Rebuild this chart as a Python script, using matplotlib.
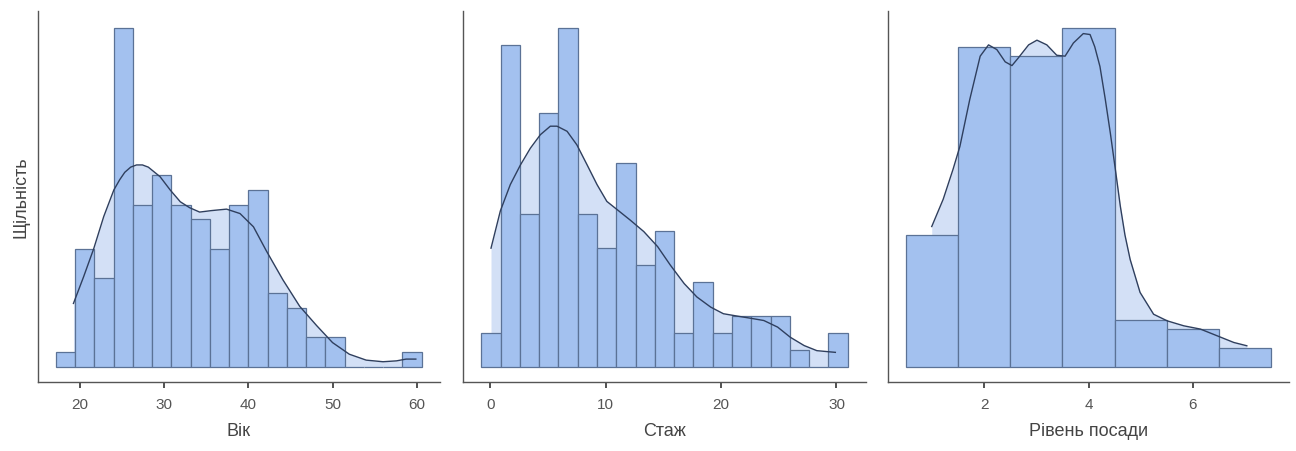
import numpy as np
import matplotlib
matplotlib.use("Agg")
import matplotlib.pyplot as plt

plt.rcParams['font.family'] = ['Liberation Sans', 'DejaVu Sans']

N = 128

# ---- Вік (age) ----
age_lo, age_hi, age_bins = 17.1, 60.6, 19
age_counts = [1, 8, 6, 23, 11, 13, 11, 10, 8, 11, 12, 5, 4, 2, 2, 0, 0, 0, 1]
age_kde_x = [19.2, 20.4, 21.6, 22.8, 24.0, 24.7, 25.3, 26.0, 26.7, 27.4, 28.1, 29.5,
             30.7, 31.9, 33.0, 34.2, 35.6, 37.4, 39.0, 40.6, 42.1, 44.1, 46.1, 48.1,
             50.0, 52.0, 54.0, 56.0, 57.6, 58.75, 59.9]
age_kde_c = [4.3, 6.1, 8.0, 10.2, 12.0, 12.7, 13.2, 13.55, 13.7, 13.7, 13.55, 12.9,
             12.0, 11.2, 10.8, 10.5, 10.6, 10.7, 10.4, 9.5, 7.9, 5.9, 4.1, 2.8,
             1.64, 0.85, 0.45, 0.34, 0.4, 0.52, 0.52]
age_ticks = [20, 30, 40, 50, 60]

# ---- Стаж (experience) ----
exp_lo, exp_hi, exp_bins = -0.78, 30.97, 19
exp_counts = [2, 19, 9, 15, 20, 9, 7, 12, 6, 8, 2, 5, 2, 3, 3, 3, 1, 0, 2]
exp_kde_x = [0.06, 0.87, 1.73, 2.6, 3.47, 4.34, 5.2, 5.78, 6.65, 7.5, 8.4, 9.25,
             10.1, 11.0, 12.1, 13.3, 14.5, 15.6, 16.8, 17.9, 19.1, 20.2, 21.4,
             22.5, 23.7, 24.9, 26.0, 27.2, 28.3, 29.9]
exp_kde_c = [7.0, 9.2, 10.75, 11.9, 12.9, 13.7, 14.2, 14.2, 13.9, 13.1, 11.9, 10.75,
             9.76, 9.27, 8.67, 7.98, 7.09, 6.0, 4.91, 4.12, 3.52, 3.13, 2.99,
             2.87, 2.73, 2.34, 1.74, 1.25, 0.95, 0.85]
exp_ticks = [0, 10, 20, 30]

# ---- Рівень посади (position level) ----
lvl_lo, lvl_hi, lvl_bins = 0.5, 7.5, 7
lvl_counts = [14, 34, 33, 36, 5, 4, 2]
lvl_kde_x = [0.99, 1.21, 1.40, 1.53, 1.72, 1.92, 2.08, 2.24, 2.40, 2.53, 2.65, 2.85,
             3.01, 3.20, 3.39, 3.55, 3.71, 3.90, 4.03, 4.12, 4.22, 4.32, 4.42, 4.52,
             4.61, 4.70, 4.80, 4.99, 5.25, 5.51, 5.83, 6.15, 6.47, 6.79, 7.04]
lvl_kde_c = [14.9, 17.8, 21.0, 23.4, 28.4, 33.0, 34.2, 33.7, 32.4, 32.0, 32.8, 34.2,
             34.7, 34.2, 33.1, 33.0, 34.4, 35.4, 35.3, 34.0, 31.9, 28.5, 24.8, 20.8,
             17.1, 14.0, 11.4, 7.9, 5.58, 4.88, 4.35, 4.0, 3.29, 2.58, 2.23]
lvl_ticks = [2, 4, 6]

xlabels = ['Вік', 'Стаж', 'Рівень посади']
ylabel = 'Щільність'

BAR = '#a3c1ef'
EDGE = '#5b7296'
FILL = '#d3e0f6'
LINE = '#2f3f5e'

W, H = 1296, 452
fig = plt.figure(figsize=(W / 100, H / 100), dpi=100)

panels = [
    (37.5, 402.5, age_lo, age_hi, age_bins, age_counts, age_kde_x, age_kde_c, age_ticks),
    (463, 403, exp_lo, exp_hi, exp_bins, exp_counts, exp_kde_x, exp_kde_c, exp_ticks),
    (888, 401, lvl_lo, lvl_hi, lvl_bins, lvl_counts, lvl_kde_x, lvl_kde_c, lvl_ticks),
]

top_px, bot_px = 12, 383
for i, (lpx, wpx, lo, hi, nb, counts, kx, kc, ticks) in enumerate(panels):
    ax = fig.add_axes([lpx / W, (H - bot_px) / H, wpx / W, (bot_px - top_px) / H])
    edges = np.linspace(lo, hi, nb + 1)
    width = edges[1] - edges[0]
    dens = np.asarray(counts) / (N * width)
    kde = np.asarray(kc) / (N * width)
    ax.fill_between(kx, 0, kde, color=FILL, lw=0, zorder=1)
    ax.bar(edges[:-1], dens, width=width, align='edge', color=BAR,
           edgecolor=EDGE, linewidth=0.9, zorder=2)
    ax.plot(kx, kde, color=LINE, lw=1.0, zorder=3)
    m = dens.max()
    ax.set_xlim(lo - 0.05 * (hi - lo), hi + 0.05 * (hi - lo))
    ax.set_ylim(-0.045 * m, 1.05 * m)
    ax.set_xticks(ticks)
    ax.set_yticks([])
    for s in ['top', 'right']:
        ax.spines[s].set_visible(False)
    for s in ['left', 'bottom']:
        ax.spines[s].set_color('#555555')
        ax.spines[s].set_linewidth(1.0)
    ax.tick_params(axis='x', length=4, width=1.2, color='#333333',
                   labelsize=11, labelcolor='#555555', pad=7)
    ax.set_xlabel(xlabels[i], fontsize=13, color='#444444', labelpad=8)
    if i == 0:
        ax.set_ylabel(ylabel, fontsize=13, color='#444444', labelpad=6)

fig.savefig('out.png', dpi=100)
